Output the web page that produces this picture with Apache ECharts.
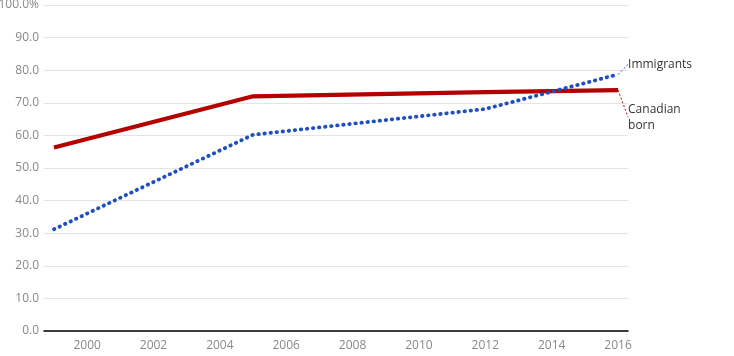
<!DOCTYPE html>
<html>
<head>
<meta charset="utf-8">
<script src="https://cdn.jsdelivr.net/npm/echarts@6/dist/echarts.min.js"></script>
<style>
html,body{margin:0;padding:0;background:#fff;}
#chart{width:734px;height:356px;}
</style>
</head>
<body>
<div id="chart"></div>
<script>
var years = [1999, 2005, 2012, 2016];
var canadianBorn = [56.3, 72.0, 73.3, 73.9];
var immigrants = [31.2, 60.2, 68.1, 78.7];
var seriesNames = ['Immigrants', 'Canadian\nborn'];
var yTicks = [0, 10, 20, 30, 40, 50, 60, 70, 80, 90, 100];

function pairs(vals, label) {
  return vals.map(function (v, i) {
    var item = { value: [years[i], v] };
    if (i === vals.length - 1) {
      item.label = { show: true, formatter: label };
    }
    return item;
  });
}

var FONT = '"Open Sans", sans-serif';
var chart = echarts.init(document.getElementById('chart'), null, { renderer: 'canvas' });
chart.setOption({
  animation: false,
  grid: { left: 44, right: 106, top: 5, bottom: 25, containLabel: false, outerBoundsMode: 'none' },
  xAxis: {
    type: 'value',
    min: 1998.7,
    max: 2016.3,
    minInterval: 2,
    maxInterval: 2,
    axisLine: { show: true, lineStyle: { color: '#000', width: 1.5 } },
    axisTick: { show: false },
    splitLine: { show: false },
    axisLabel: {
      showMinLabel: false,
      showMaxLabel: false,
      color: '#888',
      fontFamily: FONT,
      fontSize: 12,
      margin: 9,
      formatter: function (v) { return (Math.round(v) === v && v % 2 === 0) ? String(v) : ''; }
    }
  },
  yAxis: {
    type: 'value',
    min: yTicks[0],
    max: yTicks[yTicks.length - 1],
    interval: 10,
    axisLine: { show: false },
    axisTick: { show: false },
    splitLine: { show: true, lineStyle: { color: '#e4e4e4', width: 1 } },
    axisLabel: {
      color: '#888',
      fontFamily: FONT,
      fontSize: 12,
      margin: 5,
      formatter: function (v) { return v === 100 ? '100.0%' : v.toFixed(1); }
    }
  },
  series: [
    {
      name: 'Canadian born',
      type: 'line',
      data: pairs(canadianBorn, seriesNames[1]),
      symbol: 'circle',
      symbolSize: 0,
      showSymbol: true,
      z: 2,
      itemStyle: { color: '#b50000' },
      lineStyle: { color: '#b50000', width: 4.2 },
      label: {
        position: 'right',
        color: '#333',
        fontFamily: FONT,
        fontSize: 12,
        lineHeight: 16,
        align: 'left',
        distance: 4
      },
      labelLayout: { dx: 6, dy: 27, align: 'left' },
      labelLine: { show: true, lineStyle: { color: '#b50000', width: 1, type: [2, 2] } }
    },
    {
      name: 'Immigrants',
      type: 'line',
      data: pairs(immigrants, seriesNames[0]),
      symbol: 'circle',
      symbolSize: 0,
      showSymbol: true,
      z: 3,
      itemStyle: { color: '#1f4fbf' },
      lineStyle: { color: '#1f4fbf', width: 3.8, type: [0.5, 5.6], cap: 'round' },
      label: {
        position: 'right',
        color: '#333',
        fontFamily: FONT,
        fontSize: 12,
        align: 'left',
        distance: 4
      },
      labelLayout: { dx: 6, dy: -10, align: 'left' },
      labelLine: { show: true, lineStyle: { color: '#1f4fbf', width: 1, type: [2, 2] } }
    }
  ]
});
</script>
</body>
</html>
